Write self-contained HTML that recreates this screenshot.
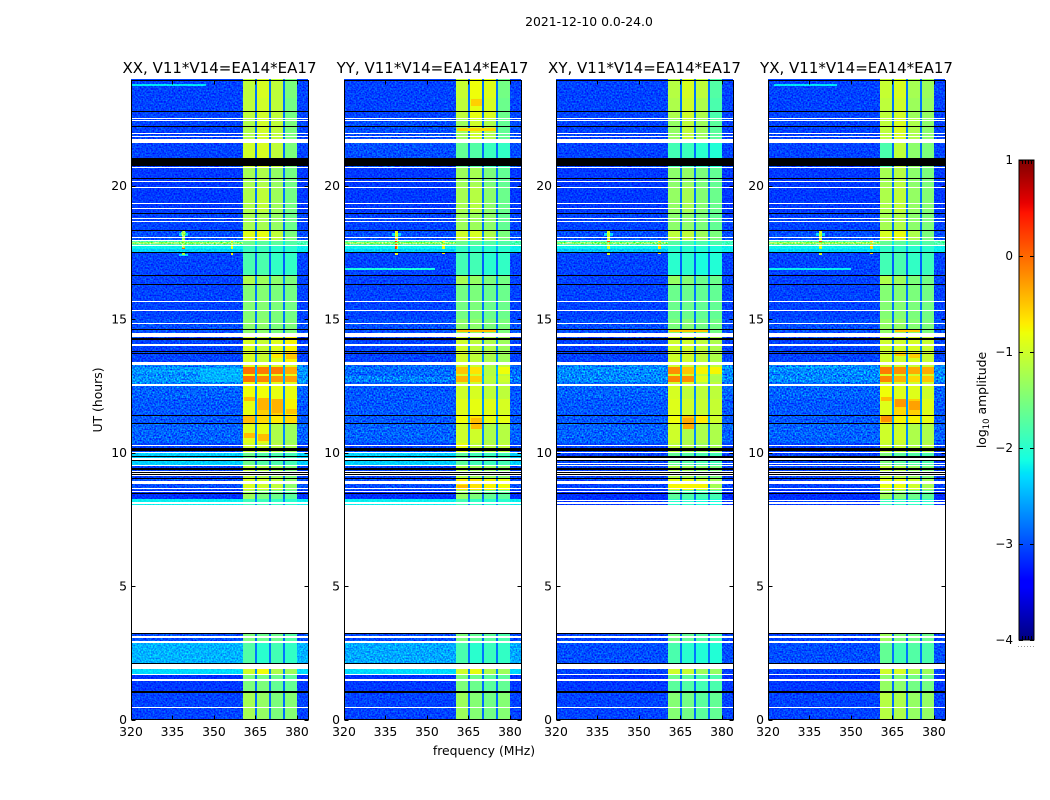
<!DOCTYPE html>
<html>
<head>
<meta charset="utf-8">
<title>2021-12-10 0.0-24.0</title>
<style>
html,body{margin:0;padding:0;background:#fff;width:1050px;height:800px;overflow:hidden}
svg{display:block;font-family:"DejaVu Sans","Liberation Sans",sans-serif;fill:#000}
.speckle{mix-blend-mode:overlay}
</style>
</head>
<body>
<svg id="chart" width="1050" height="800" viewBox="0 0 1050 800" xmlns="http://www.w3.org/2000/svg">
<defs>
<filter id="speckleFilter" x="0" y="0" width="100%" height="100%" color-interpolation-filters="sRGB">
<feTurbulence type="fractalNoise" baseFrequency="0.62" numOctaves="1" seed="7"/>
<feColorMatrix type="matrix" values="1.8 0 0 0 -0.4 1.8 0 0 0 -0.4 1.8 0 0 0 -0.4 0 0 0 0 1"/>
</filter>
</defs>
</svg>
<script>
// ---- Axis tick labels and titles ----
const panelNames = ["XX, V11*V14=EA14*EA17","YY, V11*V14=EA14*EA17","XY, V11*V14=EA14*EA17","YX, V11*V14=EA14*EA17"];
const freqTicks = [320,335,350,365,380];
const hourTicks = [0,5,10,15,20];
const colorbarTicks = [1,0,-1,-2,-3,-4];

// ---- Frequency column edges (MHz): background, A, gap, B, gap, C, gap, D, background ----
const freqEdges = [320,360.6,364.8,365.6,370,370.6,375,375.8,380,384];

// ---- Time band edges (UT hours) ----
const hourEdges = [0,1.05,1.45,1.7,1.92,2.88,3.24,8.03,8.25,8.6,9.0,9.5,10.0,10.35,11.1,11.4,12.0,12.57,12.63,12.87,12.95,13.2,13.39,14.33,15.0,16.3,16.65,17.5,17.74,17.96,18.3,19.0,20.0,20.68,21.6,22.5,23.3,24];

// ---- log10 amplitude per time band ----
const dipLevels = [-2.85,-2.85,-2.85,-2.7,-2.8,-2.85,-3,-2.7,-2.85,-2.7,
 -2.8,-2.8,-2.75,-2.7,-2.6,-2.65,-2.7,-2.6,-2.5,-2.6,
 -2.5,-2.6,-2.7,-2.8,-2.8,-2.7,-2.9,-2.5,-2.2,-2.7,
 -2.8,-2.8,-2.8,-2.85,-2.8,-2.8,-2.8];

const xxBg = [-3.05,-3.1,-3.15,-2.3,-2.5,-3.0,-3,-2.2,-3.15,-3.0,
 -3.05,-2.35,-3.05,-2.9,-2.95,-2.95,-2.9,-2.75,-2.65,-2.75,
 -2.65,-2.75,-3.05,-3.0,-3.05,-3.05,-3.05,-2.2,-1.85,-3.0,
 -3.05,-3.1,-3.1,-3.05,-3.05,-3.05,-3.05];
const xxA = [-1.25,-1.5,-1.5,-1.0,-1.75,-1.5,-3,-1.9,-1.3,-0.95,
 -1.1,-1.6,-1.0,-0.9,-0.45,-0.85,-0.8,-0.8,-0.05,-0.8,
 -0.05,-0.9,-0.95,-1.4,-1.45,-1.2,-1.8,-1.9,-1.6,-0.9,
 -1.25,-1.2,-1.25,-1.0,-1.2,-1.1,-1.1];
const xxB = [-1.35,-1.5,-1.55,-0.8,-2.0,-1.6,-3,-1.9,-1.5,-1.0,
 -1.2,-1.75,-1.05,-0.85,-0.6,-0.55,-0.8,-0.8,-0.15,-0.85,
 -0.1,-0.9,-1.05,-1.4,-1.45,-1.3,-1.8,-1.9,-1.7,-0.85,
 -1.25,-1.1,-1.2,-0.95,-1.0,-1.0,-0.95];
const xxC = [-1.5,-1.65,-1.6,-1.2,-1.85,-1.6,-3,-1.95,-1.6,-1.1,
 -1.3,-1.8,-1.15,-1.2,-0.7,-0.55,-0.85,-0.9,-0.25,-0.9,
 -0.1,-0.95,-0.9,-1.5,-1.5,-1.4,-1.95,-2.0,-1.7,-1.1,
 -1.35,-1.3,-1.35,-1.1,-1.1,-1.1,-1.1];
const xxD = [-1.45,-1.65,-1.7,-1.3,-1.95,-1.75,-3,-2.0,-1.7,-1.4,
 -1.5,-1.85,-1.25,-1.3,-0.6,-0.75,-0.85,-0.9,-0.3,-0.9,
 -0.35,-0.95,-0.75,-1.5,-1.55,-1.5,-1.95,-2.0,-1.75,-1.5,
 -1.6,-1.55,-1.55,-1.5,-1.5,-1.55,-1.5];

const yyBg = [-3.05,-3.1,-3.15,-2.3,-2.55,-3.0,-3,-2.2,-3.15,-3.0,
 -3.05,-2.35,-3.05,-2.9,-2.95,-2.95,-2.95,-2.95,-2.75,-2.9,
 -2.85,-2.9,-3.05,-3.0,-3.05,-3.05,-3.05,-2.2,-1.85,-3.0,
 -3.05,-3.1,-3.1,-3.0,-3.0,-3.05,-3.05];
const yyA = [-1.3,-1.5,-1.5,-1.0,-1.8,-1.5,-3,-1.85,-1.35,-0.7,
 -1.2,-1.7,-0.85,-1.0,-0.8,-0.9,-1.0,-1.0,-0.4,-1.0,
 -0.5,-1.0,-1.0,-1.4,-1.55,-1.25,-1.85,-1.95,-1.6,-1.0,
 -1.3,-1.25,-1.3,-1.65,-1.3,-1.1,-1.05];
const yyB = [-1.45,-1.6,-1.6,-0.85,-2.0,-1.65,-3,-1.95,-1.5,-0.65,
 -1.3,-1.85,-1.1,-1.0,-0.65,-0.85,-0.95,-1.0,-0.55,-1.0,
 -0.65,-1.05,-1.1,-1.4,-1.5,-1.35,-1.85,-1.95,-1.7,-0.95,
 -1.3,-1.15,-1.25,-1.75,-1.0,-0.85,-0.8];
const yyC = [-1.55,-1.7,-1.7,-1.2,-1.9,-1.7,-3,-2.0,-1.65,-0.75,
 -1.35,-1.9,-1.15,-1.2,-0.85,-0.9,-1.1,-1.15,-1.1,-1.15,
 -1.15,-1.2,-1.2,-1.5,-1.6,-1.5,-2.0,-2.0,-1.75,-1.2,
 -1.4,-1.4,-1.5,-1.9,-1.2,-0.95,-0.9];
const yyD = [-1.45,-1.65,-1.7,-1.3,-1.95,-1.8,-3,-2.0,-1.7,-0.8,
 -1.4,-1.85,-1.1,-1.15,-0.85,-0.95,-1.1,-1.1,-1.0,-1.1,
 -0.8,-1.1,-1.3,-1.5,-1.6,-1.55,-1.95,-2.0,-1.75,-1.5,
 -1.65,-1.6,-1.65,-1.95,-1.65,-1.6,-1.55];

const xyBg = [-3.05,-3.1,-3.15,-3.05,-3.0,-3.05,-3,-3.1,-3.15,-3.05,
 -3.05,-3.05,-3.05,-2.9,-2.95,-2.95,-2.9,-2.85,-2.7,-2.75,
 -2.7,-2.75,-3.05,-3.0,-3.05,-3.05,-3.05,-2.2,-1.9,-3.0,
 -3.05,-3.1,-3.1,-3.05,-3.05,-3.05,-3.05];
const xyA = [-1.45,-1.7,-1.6,-1.0,-1.8,-1.55,-3,-2.0,-1.7,-0.85,
 -1.2,-1.65,-1.1,-1.0,-0.8,-0.9,-0.95,-1.0,-0.15,-0.95,
 -0.2,-1.0,-1.0,-1.5,-1.6,-1.35,-2.0,-2.0,-1.75,-1.1,
 -1.4,-1.35,-1.4,-1.85,-1.35,-1.2,-1.15];
const xyB = [-1.55,-1.75,-1.7,-1.05,-2.0,-1.65,-3,-2.0,-1.8,-0.85,
 -1.3,-1.75,-1.2,-1.2,-0.5,-1.0,-1.1,-0.95,-0.2,-1.0,
 -0.5,-1.05,-1.0,-1.45,-1.6,-1.45,-2.0,-2.0,-1.8,-1.1,
 -1.4,-1.25,-1.35,-1.9,-1.1,-1.0,-0.95];
const xyC = [-1.7,-1.85,-1.8,-1.3,-2.05,-1.75,-3,-2.1,-1.85,-1.0,
 -1.4,-1.8,-1.3,-1.2,-0.7,-1.05,-1.1,-1.15,-0.9,-1.1,
 -0.75,-1.1,-1.1,-1.55,-1.65,-1.6,-2.1,-2.05,-1.8,-1.3,
 -1.5,-1.45,-1.5,-2.0,-1.3,-1.2,-1.1];
const xyD = [-1.65,-1.8,-1.8,-1.35,-2.05,-1.85,-3,-2.1,-1.85,-1.25,
 -1.5,-1.85,-1.25,-1.2,-1.0,-1.05,-1.1,-1.1,-1.2,-1.15,
 -0.75,-1.1,-1.2,-1.55,-1.65,-1.6,-2.05,-2.1,-1.8,-1.5,
 -1.65,-1.6,-1.65,-2.05,-1.7,-1.8,-1.75];

const yxBg = [-3.05,-3.1,-3.15,-3.05,-3.0,-3.05,-3,-3.1,-3.15,-3.05,
 -3.05,-3.05,-3.05,-2.9,-2.95,-2.95,-2.9,-2.85,-2.7,-2.75,
 -2.7,-2.75,-3.05,-3.0,-3.05,-3.05,-3.05,-2.2,-1.8,-3.0,
 -3.05,-3.1,-3.1,-3.05,-3.05,-3.05,-3.05];
const yxA = [-1.15,-1.35,-1.4,-1.0,-1.65,-1.3,-3,-1.9,-1.3,-0.85,
 -1.1,-1.5,-1.05,-1.0,-0.6,-0.9,-0.8,-0.95,-0.15,-0.95,
 -0.1,-1.0,-1.0,-1.35,-1.45,-1.2,-1.85,-1.95,-1.65,-0.95,
 -1.25,-1.2,-1.25,-1.8,-1.1,-1.1,-1.05];
const yxB = [-1.2,-1.4,-1.45,-0.95,-1.85,-1.5,-3,-1.95,-1.45,-0.85,
 -1.2,-1.7,-1.05,-1.0,-0.75,-0.6,-0.9,-0.95,-0.4,-1.0,
 -0.2,-1.0,-1.0,-1.35,-1.45,-1.3,-1.8,-1.95,-1.7,-0.85,
 -1.2,-1.1,-1.15,-1.1,-0.95,-1.0,-0.95];
const yxC = [-1.35,-1.55,-1.55,-1.2,-1.75,-1.55,-3,-1.95,-1.6,-1.0,
 -1.35,-1.75,-1.2,-1.2,-0.75,-0.55,-0.9,-1.0,-0.6,-1.0,
 -0.35,-1.05,-0.95,-1.45,-1.5,-1.5,-1.95,-2.0,-1.7,-1.2,
 -1.4,-1.35,-1.4,-1.4,-1.2,-1.3,-1.25];
const yxD = [-1.35,-1.55,-1.6,-1.3,-1.8,-1.6,-3,-2.0,-1.7,-1.25,
 -1.5,-1.8,-1.15,-1.2,-0.85,-0.9,-1.0,-1.0,-0.5,-1.0,
 -0.35,-1.05,-1.05,-1.5,-1.55,-1.55,-1.9,-2.0,-1.75,-1.5,
 -1.5,-1.45,-1.5,-1.5,-1.4,-1.35,-1.3];

// ---- Flagged time ranges [start hour, end hour]: blank (white) and zero amplitude (black) ----
const blankRanges = [[0.43,0.47],[1.44,1.5],[1.67,1.72],[1.91,2.08],[2.88,2.94],[3.05,3.11],[3.24,8.03],[8.09,8.13],
 [8.54,8.57],[8.65,8.69],[8.84,8.88],[8.92,8.95],[9.12,9.16],[9.19,9.23],[9.27,9.31],[9.49,9.53],[9.74,9.78],[10.0,10.04],
 [10.25,10.29],[12.48,12.52],[12.54,12.57],[13.29,13.39],[14.01,14.05],[14.33,14.49],[14.83,14.87],[15.31,15.34],[15.66,15.69],
 [17.72,17.76],[17.93,17.96],[18.03,18.06],[18.65,18.69],[18.76,18.79],[19.14,19.17],[19.32,19.35],[19.93,19.96],[20.15,20.18],
 [20.65,20.68],[21.6,21.76],[21.82,21.85],[21.93,21.96],[22.44,22.47],[22.5,22.53]];
const zeroRanges = [[1.01,1.05],[2.1,2.13],[3.21,3.24],[8.44,8.47],[9.02,9.05],[9.16,9.19],[9.23,9.27],[9.34,9.42],[9.68,9.71],
 [9.83,9.86],[10.06,10.16],[11.08,11.11],[11.38,11.41],[13.71,13.74],[13.79,13.82],[14.22,14.28],[14.6,14.63],[16.3,16.33],
 [16.62,16.65],[17.47,17.5],[18.29,18.32],[18.95,18.98],[20.25,20.28],[20.73,21.04],[22.21,22.24],[22.76,22.79]];
const crossBlankRanges = [[8.18,8.22],[9.56,9.6]];
const crossZeroRanges = [[9.8,9.86]];

// ---- Localised features: [panel, f0, f1, h0, h1, log10 amplitude] ----
const features = [
 [0,337.5,340.5,18.12,18.24,-2.3],[0,338,340,18.16,18.26,-1.7],[0,337.5,340.5,17.35,17.45,-2.3],[0,338.4,339.4,17.4,18.3,-1.2],[0,338.4,339.4,17.8,17.9,0.1],[0,338.4,339.4,17.57,17.66,-0.2],[0,356,356.9,17.42,17.95,-0.8],
 [0,320,347,23.72,23.79,-2.25],[0,345,360.6,12.65,13.15,-2.5],[0,326,345,13.02,13.08,-2.55],
 [0,361,364.8,10.55,10.72,-0.45],[0,366,370,10.45,10.7,-0.45],[0,366,370,11.6,12.05,-0.4],[0,371,375,11.5,12.0,-0.4],[0,376,380,11.45,11.65,-0.5],[0,361,364.8,11.95,12.1,-0.45],[0,376,380,13.5,13.75,-0.5],[0,371,375,13.55,13.7,-0.7],
 [0,320,360.6,17.52,17.62,-2.35],[0,320,360.6,17.82,17.88,-1.35],
 [1,337.5,340.5,18.12,18.24,-2.3],[1,338.4,339.4,17.4,18.3,-0.9],[1,338.5,339.3,17.5,18.0,0.15],[1,355.6,356.6,17.45,17.95,-0.8],[1,320,353,16.85,16.9,-2.1],
 [1,361,375,14.52,14.62,-0.45],[1,361,364.8,8.62,8.8,-0.45],[1,366,370,10.9,11.3,-0.45],[1,366,375,20.9,21.05,-0.9],[1,361,375,22.05,22.15,-0.6],[1,366,370,23.0,23.25,-0.55],
 [1,320,360.6,17.52,17.62,-2.35],[1,320,360.6,17.82,17.88,-1.35],
 [2,337.5,340.5,18.12,18.24,-2.3],[2,338.6,339.5,17.4,18.3,-1.0],[2,338.6,339.5,17.8,17.95,0.1],[2,357,357.9,17.45,17.95,-0.6],
 [2,361,375,14.5,14.6,-0.5],[2,366,370,10.9,11.3,-0.35],[2,361,375,8.62,8.82,-0.75],
 [2,320,360.6,17.52,17.62,-2.4],[2,320,360.6,17.82,17.88,-1.4],
 [3,337.5,340.5,18.12,18.24,-2.3],[3,338.6,339.5,17.4,18.3,-1.0],[3,338.6,339.5,17.8,17.95,0.1],[3,357,357.9,17.45,17.95,-0.6],[3,320,350,16.85,16.9,-2.2],[3,322,345,23.72,23.79,-2.25],
 [3,366,375,14.5,14.62,-0.5],[3,361,364.8,11.15,11.38,-0.2],[3,361,364.8,11.95,12.1,-0.45],[3,366,370,11.7,12.0,-0.25],[3,371,375,11.6,11.95,-0.3],[3,366,370,13.6,13.75,-0.55],[3,371,375,13.55,13.7,-0.55],[3,326,345,13.15,13.2,-2.5],
 [3,320,360.6,17.52,17.62,-2.3],[3,320,360.6,17.82,17.88,-1.3]
];

const panelData = [[xxBg,xxA,xxB,xxC,xxD],[yyBg,yyA,yyB,yyC,yyD],[xyBg,xyA,xyB,xyC,xyD],[yxBg,yxA,yxB,yxC,yxD]];
const panelLeft = [131,344,556,768];
const panelWidth = 177;
const plotTop = 81, plotBottom = 719.5, hourMax = 23.92;
const freqMin = 320, freqMax = 384;
const cbarLeft = 1019, cbarRight = 1034, cbarTop = 160, cbarBottom = 640, cbarMin = -4, cbarMax = 1;

const svg = document.getElementById('chart');
const NS = 'http://www.w3.org/2000/svg';

function xScale(panel, f){ return panelLeft[panel] + (f - freqMin) / (freqMax - freqMin) * panelWidth; }
function yScale(h){ return plotBottom - h / hourMax * (plotBottom - plotTop); }
function cbarScale(v){ return cbarBottom - (v - cbarMin) / (cbarMax - cbarMin) * (cbarBottom - cbarTop); }
function clamp01(v){ return Math.max(0, Math.min(1, v)); }
function jet(v){
  const t = clamp01((v - cbarMin) / (cbarMax - cbarMin));
  const r = t < 0.35 ? 0 : t < 0.66 ? (t - 0.35) / 0.31 : t < 0.89 ? 1 : 1 - (t - 0.89) / 0.11 * 0.5;
  const g = t < 0.125 ? 0 : t < 0.375 ? (t - 0.125) / 0.25 : t < 0.64 ? 1 : t < 0.91 ? 1 - (t - 0.64) / 0.27 : 0;
  const b = t < 0.11 ? 0.5 + t / 0.11 * 0.5 : t < 0.34 ? 1 : t < 0.65 ? 1 - (t - 0.34) / 0.31 : 0;
  return 'rgb(' + Math.round(r * 255) + ',' + Math.round(g * 255) + ',' + Math.round(b * 255) + ')';
}
function addRect(parent, x, y, w, h, fill){
  const el = document.createElementNS(NS, 'rect');
  el.setAttribute('x', x);
  el.setAttribute('y', y);
  el.setAttribute('width', w);
  el.setAttribute('height', h);
  el.setAttribute('fill', fill);
  parent.appendChild(el);
  return el;
}
function addLine(parent, x1, y1, x2, y2, stroke){
  const el = document.createElementNS(NS, 'line');
  el.setAttribute('x1', x1);
  el.setAttribute('y1', y1);
  el.setAttribute('x2', x2);
  el.setAttribute('y2', y2);
  el.setAttribute('stroke', stroke);
  el.setAttribute('stroke-width', 1);
  
  
  parent.appendChild(el);
  return el;
}
function addText(parent, str, x, y, size, anchor){
  const el = document.createElementNS(NS, 'text');
  el.setAttribute('x', x);
  el.setAttribute('y', y);
  el.setAttribute('font-size', size);
  el.setAttribute('text-anchor', anchor);
  el.textContent = str;
  parent.appendChild(el);
  return el;
}
function addGroup(parent, name){
  const g = document.createElementNS(NS, 'g');
  
  
  parent.appendChild(g);
  return g;
}
function addBar(g, p, f0, f1, h0, h1, fill, name){
  const x0 = Math.round(xScale(p, f0)), x1 = Math.round(xScale(p, f1));
  const yA = Math.round(yScale(h1)), yB = Math.round(yScale(h0));
  const el = addRect(g, x0, yA, Math.max(1, x1 - x0), Math.max(1, yB - yA), fill);
  el.setAttribute('shape-rendering', 'crispEdges');
  
  
  return el;
}

function drawPanel(p){
  const g = addGroup(svg, 'panel-' + panelNames[p].slice(0, 2).toLowerCase());
  const [bg, a, b, c, d] = panelData[p];
  const left = panelLeft[p];

  // heatmap cells: one per time band and frequency column
  const heat = addGroup(g, 'heatmap');
  for (let r = 0; r < hourEdges.length - 1; r++) {
    const columns = [bg[r], a[r], dipLevels[r], b[r], dipLevels[r], c[r], dipLevels[r], d[r], bg[r]];
    for (let k = 0; k < columns.length; k++) {
      addBar(heat, p, freqEdges[k], freqEdges[k + 1], hourEdges[r], hourEdges[r + 1], jet(columns[k]), 'heatmap-cell');
    }
  }
  // localised interference and hot spots
  for (const [panel, f0, f1, h0, h1, v] of features) {
    if (panel === p) addBar(heat, p, f0, f1, h0, h1, jet(v), 'rfi-feature');
  }
  // speckle texture over the background columns, standing in for channel-level noise
  const noiseColumns = [[freqEdges[0], freqEdges[1]], [freqEdges[8], freqEdges[9]]];
  for (const [f0, f1] of noiseColumns) {
    const speckle = addBar(heat, p, f0, f1, 0, hourMax, '#808080', 'noise-texture');
    speckle.setAttribute('filter', 'url(#speckleFilter)');
    speckle.setAttribute('class', 'speckle');
  }

  // flagged rows
  const zeros = p >= 2 ? zeroRanges.concat(crossZeroRanges) : zeroRanges;
  const blanks = p >= 2 ? blankRanges.concat(crossBlankRanges) : blankRanges;
  for (const [h0, h1] of zeros) addBar(g, p, freqMin, freqMax, h0, h1, '#000', 'zero-amplitude-row');
  for (const [h0, h1] of blanks) addBar(g, p, freqMin, freqMax, h0, h1, '#fff', 'flagged-row');

  // frame
  const frame = addRect(g, left + 0.5, 80.5, panelWidth, 639, 'none');
  frame.setAttribute('stroke', '#000');
  frame.setAttribute('stroke-width', 1);
  
  

  // ticks and labels
  for (const f of freqTicks) {
    const x = Math.round(xScale(p, f)) + 0.5;
    addLine(g, x, 719.5, x, 715.5, '#000');
    addLine(g, x, 80.5, x, 84.5, '#000');
    const label = addText(g, String(f), xScale(p, f), 736, 12.4, 'middle');
    
    
  }
  for (const h of hourTicks) {
    const y = Math.round(yScale(h)) + 0.5;
    addLine(g, left + 0.5, y, left + 4.5, y, '#000');
    addLine(g, left + panelWidth + 0.5, y, left + panelWidth - 3.5, y, '#000');
    const label = addText(g, String(h), left - 4, yScale(h) + 4.5, 12.4, 'end');
    
    
  }

  const title = addText(g, panelNames[p], left + panelWidth / 2, 73, 15, 'middle');
  
  
}

for (let p = 0; p < panelNames.length; p++) drawPanel(p);

// figure-level labels
const suptitle = addText(svg, '2021-12-10 0.0-24.0', 589, 26, 12.4, 'middle');



const xTitle = addText(svg, 'frequency (MHz)', 484, 755, 12.4, 'middle');



const yTitle = addText(svg, 'UT (hours)', 0, 0, 12.4, 'middle');
yTitle.setAttribute('transform', 'translate(102,400) rotate(-90)');



// colorbar
const cbar = addGroup(svg, 'colorbar');
for (let y = cbarTop; y < cbarBottom; y++) {
  const level = cbarMax - (y + 0.5 - cbarTop) / (cbarBottom - cbarTop) * (cbarMax - cbarMin);
  const strip = addRect(cbar, cbarLeft, y, cbarRight - cbarLeft, 1, jet(level));
  strip.setAttribute('shape-rendering', 'crispEdges');
  
  
}
const cbarFrame = addRect(cbar, cbarLeft, cbarTop, cbarRight - cbarLeft, cbarBottom - cbarTop, 'none');
cbarFrame.setAttribute('stroke', '#000');
cbarFrame.setAttribute('stroke-width', 1);


for (const v of colorbarTicks) {
  const y = Math.round(cbarScale(v)) + 0.5;
  addLine(cbar, cbarLeft, y, cbarLeft + 4, y, '#000');
  addLine(cbar, cbarRight, y, cbarRight - 4, y, '#000');
  const label = addText(cbar, v < 0 ? '\u2212' + Math.abs(v) : String(v), cbarLeft - 6, cbarScale(v) + 4, 12, 'end');
  
  
}
for (let i = 1; i <= 4; i++) {
  const x = cbarLeft + i * 3 + 0.5;
  addLine(cbar, x, cbarTop, x, cbarTop + 4, '#000');
  addLine(cbar, x, cbarBottom, x, cbarBottom - 4, '#000');
}
for (let i = 0; i < 6; i++) {
  const dot = addRect(cbar, 1018 + i * 3, 646, 1, 1, '#999');
  
  
}

const cbarTitle = addText(cbar, 'log', 0, 0, 12.4, 'middle');
cbarTitle.setAttribute('transform', 'translate(986,400) rotate(-90)');


const subscript = document.createElementNS(NS, 'tspan');
subscript.setAttribute('font-size', 8.5);
subscript.setAttribute('dy', 3);
subscript.textContent = '10';
cbarTitle.appendChild(subscript);
const rest = document.createElementNS(NS, 'tspan');
rest.setAttribute('dy', -3);
rest.textContent = ' amplitude';
cbarTitle.appendChild(rest);
</script>
</body>
</html>
